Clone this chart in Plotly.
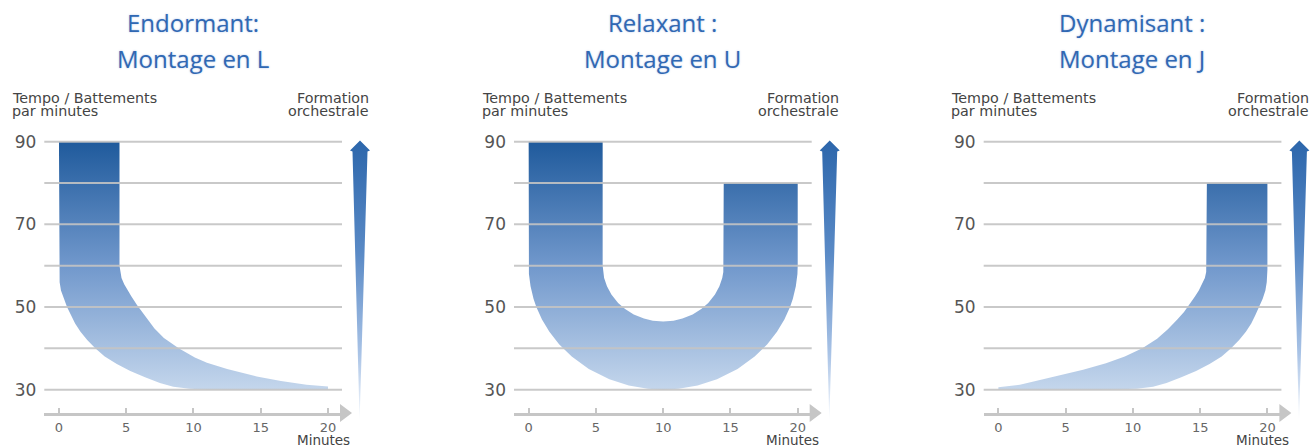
import plotly.graph_objects as go

# ---------------- data ----------------
MINUTE_TICKS = [0, 5, 10, 15, 20]
TEMPO_TICKS = [30, 50, 70, 90]
GRID_TEMPOS = [30, 40, 50, 60, 70, 80, 90]

TITLES_LINE1 = ["Endormant:", "Relaxant :", "Dynamisant :"]
TITLES_LINE2 = ["Montage en L", "Montage en U", "Montage en J"]

# L (Endormant): outer edge (top-left, down, then along 30) and inner edge
L_OUTER_MIN = [0, 0, 0.05, 0.15, 0.35, 0.6, 0.9, 1.2, 1.6, 2.1, 2.7, 3.4, 4.3, 5.3, 6.4,
               7.5, 8.5, 9.7, 11, 12.5, 20]
L_OUTER_BPM = [90, 59, 56, 54, 52, 50, 48, 46, 44, 42, 40, 38, 36.2, 34.5, 33,
               31.6, 30.7, 30.25, 30.05, 30, 30]
L_INNER_MIN = [4.5, 4.5, 4.55, 4.65, 4.85, 5.1, 5.4, 5.8, 6.15, 6.6, 7.1, 7.8, 8.9, 10.1,
               11, 12.5, 14.7, 16.5, 18.4, 20]
L_INNER_BPM = [90, 60, 58.5, 57, 55.5, 54, 52.5, 50.5, 48.8, 47, 44.8, 42.5, 40, 37.8,
               36.5, 35, 33.2, 32.1, 31.2, 30.8]

# U (Relaxant)
U_OUTER_MIN = [0, 0, 0.02, 0.14, 0.36, 0.57, 0.99, 1.54, 2.26, 3.2, 4.47, 6.0, 7.44, 8.85, 10,
               11.15, 12.56, 14.0, 15.53, 16.8, 17.74, 18.46, 19.01, 19.43, 19.64, 19.86, 19.98, 20, 20]
U_OUTER_BPM = [90, 60, 58, 55, 52, 50, 47, 44, 41, 38, 35, 32.5, 31, 30.2, 30,
               30.2, 31, 32.5, 35, 38, 41, 44, 47, 50, 52, 55, 58, 60, 80]
U_INNER_MIN = [5.5, 5.5, 5.53, 5.61, 5.82, 6.15, 6.65, 7.17, 7.81, 8.57, 9.23, 10,
               10.77, 11.43, 12.19, 12.83, 13.35, 13.85, 14.18, 14.39, 14.47, 14.5, 14.5]
U_INNER_BPM = [90, 60, 58.5, 57, 55, 53, 51, 49.5, 48.2, 47.2, 46.7, 46.5,
               46.7, 47.2, 48.2, 49.5, 51, 53, 55, 57, 58.5, 60, 80]

# J (Dynamisant)
J_INNER_MIN = [15.5, 15.5, 15.45, 15.35, 15.15, 14.9, 14.6, 14.2, 13.8, 13.3, 12.6, 11.8,
               10.7, 9.4, 8, 6.3, 4.3, 2.8, 1.6, 0]
J_INNER_BPM = [80, 60, 58.5, 57, 55.5, 54, 52.5, 50.5, 48.8, 47, 44.6, 42.3,
               40, 38, 36.4, 34.8, 33.2, 32.1, 31.2, 30.6]
J_OUTER_MIN = [20, 20, 19.95, 19.85, 19.65, 19.4, 19.1, 18.8, 18.4, 17.9, 17.3, 16.6,
               15.7, 14.7, 13.6, 12.5, 11.5, 10.3, 9, 7.5, 0]
J_OUTER_BPM = [80, 59, 56, 54, 52, 50, 48, 46, 44, 42, 40, 38,
               36.2, 34.5, 33, 31.6, 30.7, 30.25, 30.05, 30, 30]

# ---------------- layout / style ----------------
W, H = 1311, 448
PANEL_OFFSETS = [0, 469.7, 939.4]
PLOT_LEFT, PLOT_RIGHT, PLOT_TOP, PLOT_BOTTOM = 44.3, 342.0, 139.6, 413.0
X_RANGE = [-1.09, 21.04]
Y_RANGE = [24.36, 90.5]

SHAPE_SCALE = [[0, "#c4d6ec"], [0.5, "#7198cc"], [1, "#1f5a9c"]]
ARROW_SCALE = [[0, "#ffffff"], [0.25, "#a9c3e6"], [0.6, "#5a8ac6"], [1, "#2c66ab"]]
AXIS_GREY = "#c6c6c6"
TITLE_BLUE = "#3068b3"
TEXT_GREY = "#444444"

# decorative tapered "Formation orchestrale" arrow, pixel outline relative to panel
ARROW_X = [360, 370, 367.5, 359.6, 352.5, 350, 360]
ARROW_Y = [140.5, 150.5, 151.5, 421, 151.5, 150.5, 140.5]

polygons = [
    (L_OUTER_MIN + L_INNER_MIN[::-1], L_OUTER_BPM + L_INNER_BPM[::-1]),
    (U_OUTER_MIN + U_INNER_MIN[::-1], U_OUTER_BPM + U_INNER_BPM[::-1]),
    (J_INNER_MIN + J_OUTER_MIN[::-1], J_INNER_BPM + J_OUTER_BPM[::-1]),
]

fig = go.Figure()
layout = dict(
    width=W, height=H, margin=dict(l=0, r=0, t=0, b=0, pad=0, autoexpand=False),
    paper_bgcolor="white", plot_bgcolor="rgba(0,0,0,0)",
    showlegend=False, font=dict(family="DejaVu Sans", color=TEXT_GREY),
)
shapes = []
annotations = []

for i, off in enumerate(PANEL_OFFSETS):
    n = i + 1
    xa = "x" if n == 1 else f"x{n}"
    ya = "y" if n == 1 else f"y{n}"
    xkey = "xaxis" if n == 1 else f"xaxis{n}"
    ykey = "yaxis" if n == 1 else f"yaxis{n}"
    layout[xkey] = dict(
        domain=[(PLOT_LEFT + off) / W, (PLOT_RIGHT + off) / W], range=X_RANGE,
        anchor=ya, tickvals=MINUTE_TICKS, showgrid=False, zeroline=False,
        showline=True, linecolor=AXIS_GREY, linewidth=3, automargin=False,
        ticks="inside", ticklen=5, tickwidth=2, tickcolor=AXIS_GREY,
        tickfont=dict(family="DejaVu Sans", size=13, color="#666666"), fixedrange=True,
    )
    layout[ykey] = dict(
        domain=[(H - PLOT_BOTTOM) / H, (H - PLOT_TOP) / H], range=Y_RANGE,
        anchor=xa, tickvals=TEMPO_TICKS, showgrid=False, zeroline=False, automargin=False,
        showline=False, ticks="", ticklabelstandoff=7,
        tickfont=dict(family="DejaVu Sans", size=17, color="#555555"), fixedrange=True,
    )
    px, py = polygons[i]
    fig.add_trace(go.Scatter(
        x=px, y=py, xaxis=xa, yaxis=ya, mode="lines", fill="toself",
        line=dict(width=0), hoverinfo="skip",
        fillgradient=dict(type="vertical", colorscale=SHAPE_SCALE, start=30, stop=90),
    ))
    for v in GRID_TEMPOS:
        shapes.append(dict(type="line", xref=f"{xa} domain", yref=ya, x0=0, x1=1, y0=v, y1=v,
                           line=dict(color="rgba(195,195,195,0.9)", width=2), layer="above"))
    # x-axis arrow head
    shapes.append(dict(type="path", xref="x4", yref="y4",
                       path=f"M {340 + off},{404} L {352 + off},{413} L {340 + off},{422} Z",
                       fillcolor=AXIS_GREY, line=dict(width=0)))
    # orchestral arrow
    fig.add_trace(go.Scatter(
        x=[a + off for a in ARROW_X], y=ARROW_Y, xaxis="x4", yaxis="y4",
        mode="lines", fill="toself", line=dict(width=0), hoverinfo="skip",
        fillgradient=dict(type="vertical", colorscale=ARROW_SCALE, start=425, stop=140),
    ))
    tfont = dict(family="Open Sans", size=24, color=TITLE_BLUE,
                 shadow="0px 0px 2px rgba(70,120,200,0.45)")
    sfont = dict(size=14.3, color=TEXT_GREY)
    annotations += [
        dict(x=193 + off, y=22, text=TITLES_LINE1[i], font=tfont),
        dict(x=193 + off, y=58, text=TITLES_LINE2[i], font=tfont),
        dict(x=10 + off, y=97.5, text="Tempo / Battements", xanchor="left", font=sfont),
        dict(x=10 + off, y=111, text="par minutes", xanchor="left", font=sfont),
        dict(x=371.2 + off, y=97.5, text="Formation", xanchor="right", font=sfont),
        dict(x=371.2 + off, y=111, text="orchestrale", xanchor="right", font=sfont),
        dict(x=323 + off, y=440, text="Minutes", font=dict(size=13.5, color=TEXT_GREY)),
    ]

for a in annotations:
    a.update(xref="x4", yref="y4", showarrow=False)
    a.setdefault("xanchor", "center")
    a["yanchor"] = "middle"

layout["xaxis4"] = dict(domain=[0, 1], range=[0, W], visible=False, anchor="y4",
                        fixedrange=True, automargin=False)
layout["yaxis4"] = dict(domain=[0, 1], range=[H, 0], visible=False, anchor="x4",
                        fixedrange=True, automargin=False)
layout["shapes"] = shapes
layout["annotations"] = annotations
fig.update_layout(**layout)

fig.write_html("out.html", config={"displayModeBar": False},
               post_script="document.body.style.margin='0';document.body.style.overflow='hidden';")
